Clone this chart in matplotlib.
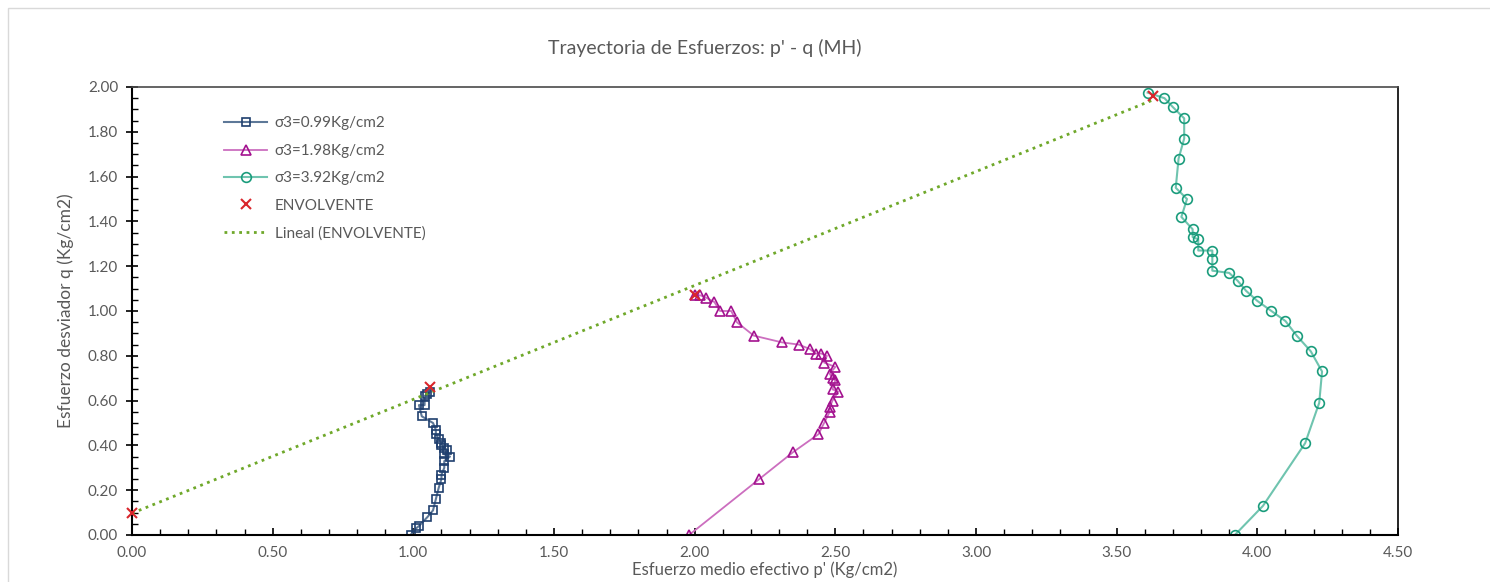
import matplotlib
matplotlib.use('Agg')
import matplotlib.pyplot as plt
from matplotlib.ticker import MultipleLocator
from matplotlib.patches import Rectangle
import numpy as np

plt.rcParams['font.family'] = ['Lato', 'DejaVu Sans']

# sigma3 = 0.99 Kg/cm2
p1 = [0.99, 1.01, 1.02, 1.05, 1.07, 1.08, 1.09, 1.10, 1.10, 1.11, 1.11, 1.13, 1.11,
      1.12, 1.11, 1.10, 1.10, 1.09, 1.08, 1.08, 1.07, 1.03, 1.02, 1.04, 1.04, 1.05, 1.06]
q1 = [0.00, 0.03, 0.04, 0.08, 0.11, 0.16, 0.21, 0.25, 0.27, 0.30, 0.33, 0.35, 0.36,
      0.38, 0.39, 0.40, 0.41, 0.43, 0.45, 0.47, 0.50, 0.53, 0.58, 0.58, 0.62, 0.63, 0.64]

# sigma3 = 1.98 Kg/cm2
p2 = [1.98, 2.23, 2.35, 2.44, 2.46, 2.48, 2.48, 2.49, 2.51, 2.49, 2.50, 2.49, 2.48,
      2.50, 2.46, 2.47, 2.45, 2.43, 2.41, 2.37, 2.31, 2.21, 2.15, 2.13, 2.09, 2.07,
      2.04, 2.02, 2.00]
q2 = [0.00, 0.25, 0.37, 0.45, 0.50, 0.55, 0.57, 0.60, 0.64, 0.65, 0.69, 0.70, 0.72,
      0.75, 0.77, 0.80, 0.81, 0.81, 0.83, 0.85, 0.86, 0.89, 0.95, 1.00, 1.00, 1.04,
      1.06, 1.07, 1.07]

# sigma3 = 3.92 Kg/cm2
p3 = [3.92, 4.02, 4.17, 4.22, 4.23, 4.19, 4.14, 4.10, 4.05, 4.00, 3.96, 3.93, 3.90,
      3.84, 3.84, 3.84, 3.79, 3.79, 3.77, 3.77, 3.73, 3.75, 3.71, 3.72, 3.74, 3.74,
      3.70, 3.67, 3.61]
q3 = [0.00, 0.13, 0.41, 0.59, 0.73, 0.82, 0.89, 0.955, 1.00, 1.045, 1.09, 1.135, 1.17,
      1.18, 1.23, 1.27, 1.27, 1.32, 1.33, 1.365, 1.42, 1.50, 1.55, 1.68, 1.77, 1.86,
      1.91, 1.95, 1.975]

# envolvente
p_env = [0.00, 1.06, 2.00, 3.63]
q_env = [0.10, 0.66, 1.07, 1.96]

fig = plt.figure(figsize=(14.9, 5.82), dpi=100)
ax = fig.add_axes([132/1490, 1 - 535/582, (1398 - 132)/1490, (535 - 87)/582])

gray = '#595959'

ax.plot(p1, q1, '-', color='#5d7898', lw=1.5, marker='s', ms=5.5,
        mfc='none', mec='#1f3f6e', mew=1.2, label='σ3=0.99Kg/cm2')
ax.plot(p2, q2, '-', color='#cc6ebf', lw=1.3, marker='^', ms=7,
        mfc='none', mec='#a3128f', mew=1.2, label='σ3=1.98Kg/cm2')
ax.plot(p3, q3, '-', color='#6fc4af', lw=1.5, marker='o', ms=7,
        mfc='none', mec='#1a9c7c', mew=1.2, label='σ3=3.92Kg/cm2')
ax.plot(p_env, q_env, 'x', color='#d9262c', ms=7, mew=1.5, label='ENVOLVENTE',
        clip_on=False, zorder=5)

coef = np.polyfit(p_env, q_env, 1)
xs = np.array([min(p_env), max(p_env)])
ax.plot(xs, np.polyval(coef, xs), ':', color='#6fa82a', lw=2,
        label='Lineal (ENVOLVENTE)')

ax.set_xlim(0, 4.5)
ax.set_ylim(0, 2.0)
ax.xaxis.set_major_locator(MultipleLocator(0.5))
ax.xaxis.set_minor_locator(MultipleLocator(0.1))
ax.yaxis.set_major_locator(MultipleLocator(0.2))
ax.yaxis.set_minor_locator(MultipleLocator(0.05))
ax.xaxis.set_major_formatter(lambda v, pos: f'{v:.2f}')
ax.yaxis.set_major_formatter(lambda v, pos: f'{v:.2f}')
ax.tick_params(axis='x', which='both', direction='in', colors='black',
               labelcolor=gray, labelsize=11, pad=8)
ax.tick_params(axis='x', which='major', length=5, width=1.2)
ax.tick_params(axis='x', which='minor', length=4, width=1)
ax.tick_params(axis='y', which='major', direction='inout', length=8, width=1.2,
               labelcolor=gray, labelsize=11, pad=6)
ax.tick_params(axis='y', which='minor', direction='in', length=4, width=1)

for side in ['left', 'bottom']:
    ax.spines[side].set_linewidth(1.5)
    ax.spines[side].set_color('black')
ax.spines['top'].set_color('#4a4a4a')
ax.spines['top'].set_linewidth(1.2)
ax.spines['right'].set_color('black')
ax.spines['right'].set_linewidth(1.2)

ax.set_xlabel("Esfuerzo medio efectivo p' (Kg/cm2)", color=gray, fontsize=12,
              labelpad=1)
ax.set_ylabel('Esfuerzo desviador q (Kg/cm2)', color=gray, fontsize=12.5,
              labelpad=10)

fig.text(705/1490, 1 - 48/582, "Trayectoria de Esfuerzos: p' - q (MH)",
         ha='center', va='center', color=gray, fontsize=14)

leg = ax.legend(loc='upper left', bbox_to_anchor=(0.062, 0.965), frameon=False,
                fontsize=11, handlelength=2.8, handletextpad=0.5,
                labelspacing=0.88, labelcolor=gray)

fig.patches.append(Rectangle((8/1490, -0.1), 1.2, 1.1 - 8/582,
                             transform=fig.transFigure, fill=False,
                             ec='#d9d9d9', lw=1))

fig.savefig('out.png', dpi=100)
